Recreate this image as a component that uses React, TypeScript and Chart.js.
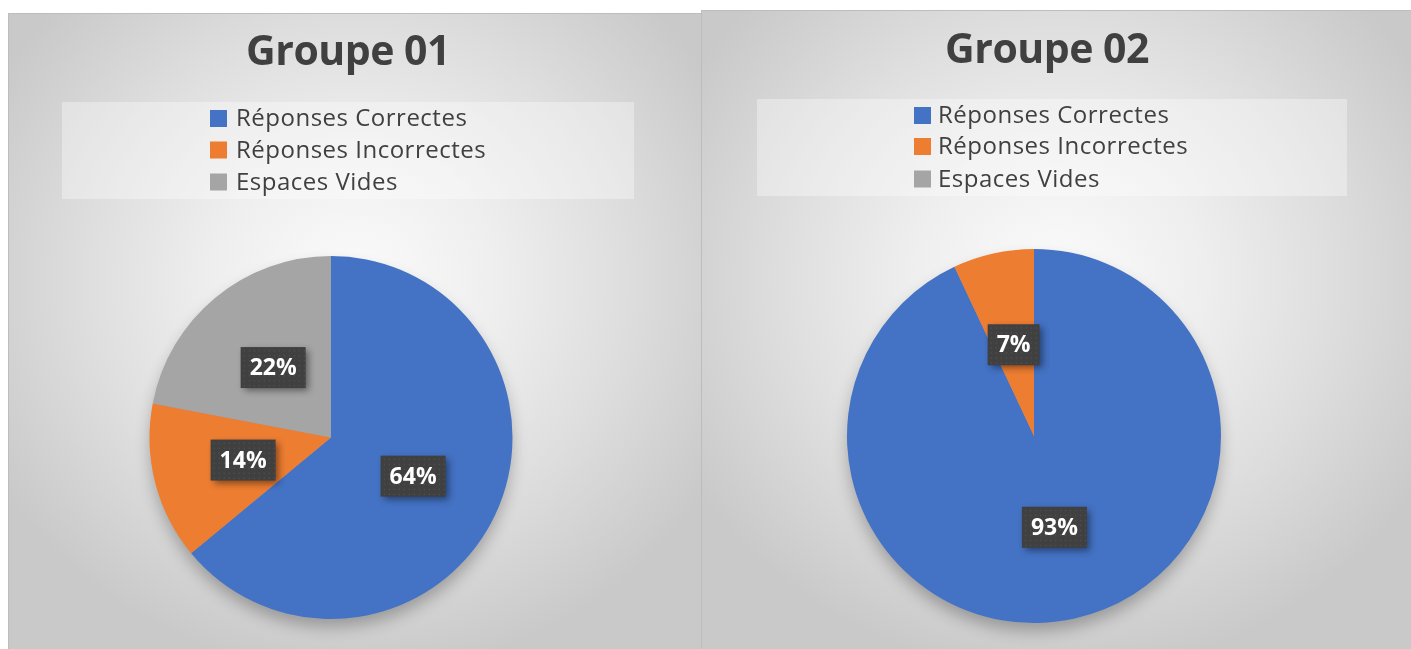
import React, { useEffect, useRef } from 'react';
import { Chart, registerables } from 'chart.js';

Chart.register(...registerables);

// ---- Data ----
const categories = ['Réponses Correctes', 'Réponses Incorrectes', 'Espaces Vides'];
const group01Values = [64, 14, 22];
const group02Values = [93, 7, 0];
const group01Title = 'Groupe 01';
const group02Title = 'Groupe 02';
const sliceColors = ['#4472C4', '#ED7D31', '#A5A5A5'];

type PanelLayout = {
  left: number;
  top: number;
  width: number;
  height: number;
  padding: { left: number; right: number; top: number; bottom: number };
  titleX: number;
  titleY: number;
  legendBox: { x: number; y: number; w: number; h: number };
  squareX: number;
  textX: number;
  rowY: number[];
};

const leftLayout: PanelLayout = {
  left: 8,
  top: 13,
  width: 693,
  height: 636,
  padding: { left: 141.5, right: 188.5, top: 243, bottom: 30 },
  titleX: 340,
  titleY: 52,
  legendBox: { x: 54, y: 89, w: 572, h: 97 },
  squareX: 202,
  textX: 228,
  rowY: [105.5, 137, 169],
};

const rightLayout: PanelLayout = {
  left: 701,
  top: 10,
  width: 710,
  height: 639,
  padding: { left: 146, right: 190, top: 239, bottom: 26 },
  titleX: 346,
  titleY: 53,
  legendBox: { x: 56, y: 89, w: 590, h: 97 },
  squareX: 213,
  textX: 237,
  rowY: [105.5, 136.5, 169],
};

const FONT = '"Open Sans", "Noto Sans", sans-serif';

function makeDecorPlugin(title: string, layout: PanelLayout) {
  return {
    id: 'panelDecor',
    beforeDatasetsDraw(chart: any) {
      const meta = chart.getDatasetMeta(0);
      const arc = meta.data[0];
      if (!arc) return;
      const { x, y, outerRadius } = arc.getProps(['x', 'y', 'outerRadius'], true);
      const ctx = chart.ctx;
      ctx.save();
      ctx.shadowColor = 'rgba(0,0,0,0.28)';
      ctx.shadowBlur = 16;
      ctx.shadowOffsetY = 9;
      ctx.fillStyle = '#9a9a9a';
      ctx.beginPath();
      ctx.arc(x, y, outerRadius - 1, 0, Math.PI * 2);
      ctx.fill();
      ctx.restore();
    },
    afterDraw(chart: any) {
      const ctx = chart.ctx;
      const ds = chart.data.datasets[0];
      const values: number[] = ds.data;
      const total = values.reduce((a: number, b: number) => a + b, 0);
      ctx.save();
      // title
      ctx.fillStyle = '#404040';
      ctx.font = `bold 41px ${FONT}`;
      ctx.textAlign = 'center';
      ctx.textBaseline = 'alphabetic';
      (ctx as any).letterSpacing = '-0.5px';
      ctx.fillText(title, layout.titleX, layout.titleY);
      (ctx as any).letterSpacing = '0px';

      // legend background
      const lb = layout.legendBox;
      ctx.fillStyle = 'rgba(255,255,255,0.35)';
      ctx.fillRect(lb.x, lb.y, lb.w, lb.h);

      // legend entries
      ctx.font = `24px ${FONT}`;
      ctx.textAlign = 'left';
      ctx.textBaseline = 'middle';
      (ctx as any).letterSpacing = '0.5px';
      const labels: string[] = chart.data.labels;
      labels.forEach((lab, i) => {
        const cy = layout.rowY[i];
        ctx.fillStyle = (ds.backgroundColor as string[])[i];
        ctx.fillRect(layout.squareX, cy - 8.5, 17, 17);
        ctx.fillStyle = '#404040';
        ctx.fillText(lab, layout.textX, cy + 1);
      });
      (ctx as any).letterSpacing = '0px';

      // data labels
      const meta = chart.getDatasetMeta(0);
      ctx.font = `bold 23px ${FONT}`;
      meta.data.forEach((el: any, i: number) => {
        const v = values[i];
        if (!v) return;
        const pos = el.tooltipPosition();
        const txt = Math.round((v / total) * 100) + '%';
        const tw = ctx.measureText(txt).width;
        const bw = tw + 18;
        const bh = 41;
        const bx = pos.x - bw / 2;
        const by = pos.y - bh / 2;
        ctx.save();
        ctx.shadowColor = 'rgba(0,0,0,0.45)';
        ctx.shadowBlur = 7;
        ctx.shadowOffsetX = 3;
        ctx.shadowOffsetY = 3;
        ctx.fillStyle = '#404040';
        ctx.fillRect(bx, by, bw, bh);
        ctx.restore();
        // subtle dotted texture
        ctx.fillStyle = 'rgba(255,255,255,0.07)';
        for (let yy = by + 3; yy < by + bh - 1; yy += 5) {
          for (let xx = bx + 3; xx < bx + bw - 1; xx += 5) {
            ctx.fillRect(xx, yy, 1.5, 1.5);
          }
        }
        ctx.fillStyle = '#ffffff';
        ctx.textAlign = 'center';
        ctx.textBaseline = 'middle';
        ctx.fillText(txt, pos.x, pos.y + 1);
      });
      ctx.restore();
    },
  };
}

function PiePanel({ title, values, layout }: { title: string; values: number[]; layout: PanelLayout }) {
  const ref = useRef<HTMLCanvasElement | null>(null);
  useEffect(() => {
    if (!ref.current) return;
    const chart = new Chart(ref.current, {
      type: 'pie',
      data: {
        labels: categories,
        datasets: [
          {
            data: values,
            backgroundColor: sliceColors,
            borderWidth: 0,
          },
        ],
      },
      options: {
        responsive: false,
        maintainAspectRatio: false,
        animation: false,
        layout: { padding: layout.padding },
        plugins: {
          legend: { display: false },
          title: { display: false },
          tooltip: { enabled: false },
        },
      },
      plugins: [makeDecorPlugin(title, layout)],
    });
    return () => chart.destroy();
  }, [title, values, layout]);

  return (
    <div
      style={{
        position: 'absolute',
        left: layout.left,
        top: layout.top,
        width: layout.width,
        height: layout.height,
        boxSizing: 'border-box',
        borderLeft: '1px solid #bdbdbd',
        borderTop: '1px solid #bdbdbd',
        background:
          'radial-gradient(ellipse 60% 62% at 50% 42%, #fbfbfb 0%, #eeeeee 35%, #dedede 65%, #c9c9c9 100%)',
        overflow: 'hidden',
      }}
    >
      <canvas
        ref={ref}
        width={layout.width}
        height={layout.height}
        style={{ position: 'absolute', left: -1, top: -1, width: layout.width, height: layout.height }}
      />
    </div>
  );
}

export default function App() {
  return (
    <div style={{ position: 'absolute', left: 0, top: 0, width: 1411, height: 649, background: '#ffffff', overflow: 'hidden' }}>
      <PiePanel title={group01Title} values={group01Values} layout={leftLayout} />
      <PiePanel title={group02Title} values={group02Values} layout={rightLayout} />
    </div>
  );
}
